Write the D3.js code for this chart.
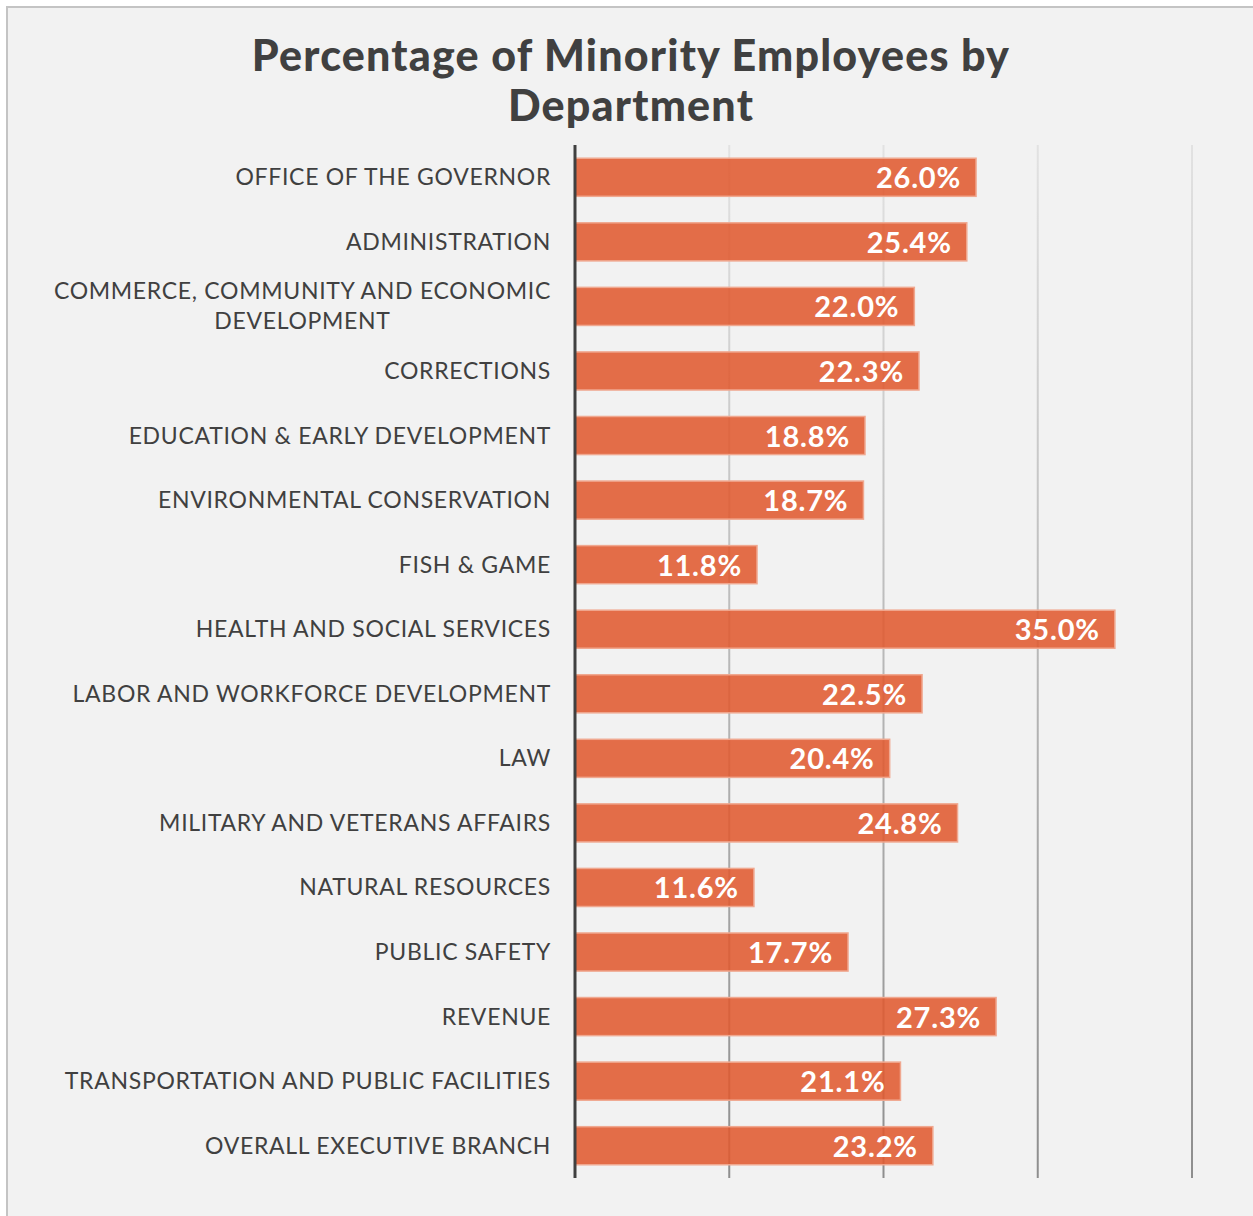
<!DOCTYPE html>
<html><head><meta charset="utf-8">
<script src="https://cdn.jsdelivr.net/npm/d3@7"></script>
<style>
html,body{margin:0;padding:0;background:#fff;}
svg{display:block;}
</style></head>
<body>
<svg id="chart" width="1253" height="1216"></svg>
<script>
const titleLines = ["Percentage of Minority Employees by", "Department"];
const categories = [
  "OFFICE OF THE GOVERNOR",
  "ADMINISTRATION",
  "COMMERCE, COMMUNITY AND ECONOMIC|DEVELOPMENT",
  "CORRECTIONS",
  "EDUCATION & EARLY DEVELOPMENT",
  "ENVIRONMENTAL CONSERVATION",
  "FISH & GAME",
  "HEALTH AND SOCIAL SERVICES",
  "LABOR AND WORKFORCE DEVELOPMENT",
  "LAW",
  "MILITARY AND VETERANS AFFAIRS",
  "NATURAL RESOURCES",
  "PUBLIC SAFETY",
  "REVENUE",
  "TRANSPORTATION AND PUBLIC FACILITIES",
  "OVERALL EXECUTIVE BRANCH"
];
const values = [0.260, 0.254, 0.220, 0.223, 0.188, 0.187, 0.118, 0.350, 0.225, 0.204, 0.248, 0.116, 0.177, 0.273, 0.211, 0.232];
const gridTicks = [0.1, 0.2, 0.3, 0.4];

const svg = d3.select("#chart");
const FONT = "Lato, 'Open Sans', sans-serif";

// background & border
svg.append("rect").attr("x",0).attr("y",0).attr("width",1253).attr("height",1216).attr("fill","#ffffff");
svg.append("rect").attr("x",7).attr("y",7).attr("width",1260).attr("height",1220)
  .attr("fill","#f2f2f2").attr("stroke","#c4c4c4").attr("stroke-width",2);

const defs = svg.append("defs");
const grad = defs.append("linearGradient").attr("id","gridGrad")
  .attr("gradientUnits","userSpaceOnUse").attr("x1",0).attr("y1",145).attr("x2",0).attr("y2",1178);
grad.append("stop").attr("offset","0%").attr("stop-color","#e2e2e2");
grad.append("stop").attr("offset","100%").attr("stop-color","#8e8e8e");

// title
svg.append("text").attr("x",631).attr("y",0).attr("text-anchor","middle")
  .attr("font-family",FONT).attr("font-weight","900").attr("font-size",43)
  .attr("letter-spacing",1.2).attr("fill","#404040")
  .selectAll("tspan").data(titleLines).join("tspan")
  .attr("x",631).attr("y",(d,i)=>71+i*50).text(d=>d);

const x = d3.scaleLinear().domain([0,0.4]).range([575,1192]);
const y = d3.scaleBand().domain(categories).range([145,1178]).paddingInner(0.41).paddingOuter(0.205);

// gridlines
svg.append("g").selectAll("line").data(gridTicks).join("line")
  .attr("x1",d=>x(d)).attr("x2",d=>x(d)).attr("y1",145).attr("y2",1178)
  .attr("stroke","url(#gridGrad)").attr("stroke-width",2);

// bars
svg.append("g").selectAll("rect").data(values).join("rect")
  .attr("x",x(0)).attr("y",(d,i)=>y(categories[i]))
  .attr("width",d=>x(d)-x(0)).attr("height",y.bandwidth())
  .attr("fill","#e05a30").attr("fill-opacity",0.88)
  .attr("stroke","#f0a890").attr("stroke-width",1.5);

// value labels
svg.append("g").selectAll("text").data(values).join("text")
  .attr("x",d=>x(d)-15).attr("y",(d,i)=>y(categories[i])+y.bandwidth()/2+11)
  .attr("text-anchor","end").attr("font-family",FONT).attr("font-weight","bold")
  .attr("font-size",29).attr("letter-spacing",0.8).attr("fill","#ffffff")
  .text(d=>(d*100).toFixed(1)+"%");

// axis (y)
const yAxis = d3.axisLeft(y).tickSize(0).tickPadding(24).tickFormat(()=>"");
const ag = svg.append("g").attr("transform",`translate(${x(0)},0)`).call(yAxis);
ag.select(".domain").attr("stroke","#404040").attr("stroke-width",3).attr("d","M0,145V1178");

// category labels
const lg = svg.append("g");
categories.forEach((c,i)=>{
  const lines = c.split("|");
  const cy = y(c)+y.bandwidth()/2;
  const t = lg.append("text").attr("text-anchor","end")
    .attr("font-family",FONT).attr("font-size",23).attr("letter-spacing",0.7)
    .attr("fill","#404040");
  if(lines.length===1){
    t.attr("x",551).attr("y",cy+8).text(c);
  } else {
    lines.forEach((l,j)=>{
      t.append("tspan").attr("x",551).attr("y",cy-15+8+j*30).text(l);
    });
  }
});
// center the 2nd line of wrapped label under the first
lg.selectAll("text").each(function(){
  const tsp = d3.select(this).selectAll("tspan");
  if(tsp.size()===2){
    const first = tsp.nodes()[0], second = tsp.nodes()[1];
    const w1 = first.getComputedTextLength();
    const centerX = 551 - w1/2;
    d3.select(this).attr("text-anchor","middle");
    d3.select(first).attr("x",centerX);
    d3.select(second).attr("x",centerX);
  }
});
</script>
</body></html>
